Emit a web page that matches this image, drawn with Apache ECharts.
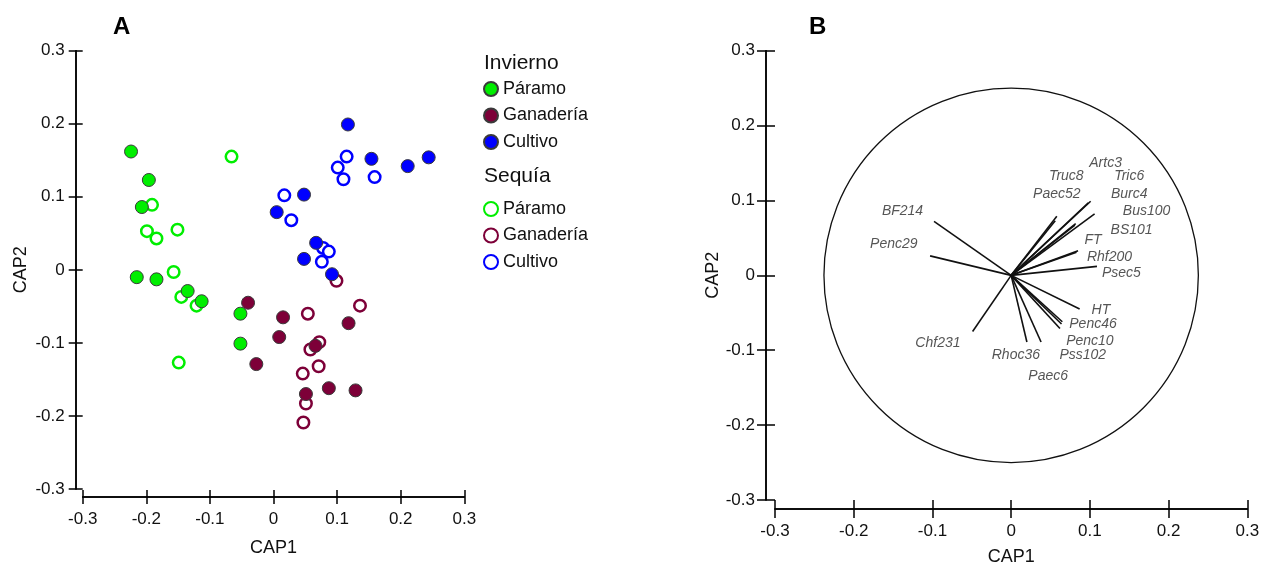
<!DOCTYPE html>
<html>
<head>
<meta charset="utf-8">
<script src="https://cdn.jsdelivr.net/npm/echarts@6/dist/echarts.min.js"></script>
<style>
html,body{margin:0;padding:0;background:#fff;}
#chart{width:1268px;height:566px;}
</style>
</head>
<body>
<div id="chart"></div>
<script>
// ---------- Data ----------
const axisTicks = [-0.3, -0.2, -0.1, 0, 0.1, 0.2, 0.3];
const groupNames = ['Páramo', 'Ganadería', 'Cultivo'];
const seasonNames = ['Invierno', 'Sequía'];

// Panel A: CAP scores
const invParamoX = [-0.224, -0.196, -0.207, -0.215, -0.184, -0.135, -0.113, -0.052, -0.052];
const invParamoY = [0.162, 0.123, 0.086, -0.010, -0.013, -0.029, -0.043, -0.060, -0.101];
const seqParamoX = [-0.066, -0.191, -0.199, -0.151, -0.184, -0.157, -0.145, -0.121, -0.149];
const seqParamoY = [0.155, 0.089, 0.053, 0.055, 0.043, -0.003, -0.037, -0.049, -0.127];
const invGanX = [-0.040, 0.015, 0.009, -0.027, 0.066, 0.118, 0.087, 0.129, 0.051];
const invGanY = [-0.045, -0.065, -0.092, -0.129, -0.104, -0.073, -0.162, -0.165, -0.170];
const seqGanX = [0.099, 0.136, 0.054, 0.072, 0.058, 0.071, 0.046, 0.051, 0.047];
const seqGanY = [-0.015, -0.049, -0.060, -0.099, -0.109, -0.132, -0.142, -0.183, -0.209];
const invCultX = [0.117, 0.154, 0.211, 0.244, 0.048, 0.005, 0.067, 0.048, 0.092];
const invCultY = [0.199, 0.152, 0.142, 0.154, 0.103, 0.079, 0.037, 0.015, -0.006];
const seqCultX = [0.115, 0.101, 0.110, 0.159, 0.017, 0.028, 0.078, 0.087, 0.076];
const seqCultY = [0.155, 0.140, 0.124, 0.127, 0.102, 0.068, 0.030, 0.025, 0.011];

// Panel B: vectors
const vectorNames = ['BF214','Penc29','Chf231','Rhoc36','Paec6','Pss102','Penc10','Penc46','HT','Psec5','Rhf200','FT','BS101','Burc4','Bus100','Tric6','Artc3','Truc8','Paec52'];
const vectorX = [-0.098,-0.103,-0.049,0.020,0.038,0.062,0.064,0.065,0.087,0.109,0.085,0.083,0.081,0.082,0.106,0.098,0.101,0.058,0.056];
const vectorY = [0.072,0.026,-0.075,-0.089,-0.089,-0.071,-0.065,-0.062,-0.045,0.012,0.033,0.031,0.067,0.069,0.082,0.097,0.099,0.079,0.073];
const labelX = [-0.138,-0.149,-0.093,0.006,0.047,0.091,0.100,0.104,0.114,0.140,0.125,0.104,0.153,0.150,0.172,0.150,0.120,0.070,0.058];
const labelY = [0.086,0.042,-0.091,-0.106,-0.134,-0.106,-0.088,-0.065,-0.046,0.003,0.024,0.047,0.060,0.108,0.086,0.132,0.150,0.132,0.108];
const circleRadius = 0.25;

// ---------- Style ----------
const FONT = '"Liberation Sans", Arial, sans-serif';
const colGreen = '#00ee00', colMaroon = '#7d0038', colBlue = '#0000ff';
const pairs = (xs, ys) => xs.map((x, i) => [x, ys[i]]);
const fmt = v => { const r = Math.round(v * 10) / 10; return r === 0 ? '0' : String(r); };

function axisPair(kind, grid, offset, tickLen, nameTxt, nameGap) {
  const common = {
    gridIndex: grid, type: 'value', min: axisTicks[0], max: axisTicks[axisTicks.length - 1], interval: 0.1, offset: offset,
    position: kind === 'x' ? 'bottom' : 'left',
    splitLine: { show: false },
    axisLine: { show: true, onZero: false, lineStyle: { color: '#000', width: 1.5 } }
  };
  const main = Object.assign({}, common, {
    name: nameTxt, nameLocation: 'middle', nameGap: nameGap,
    nameTextStyle: { fontFamily: FONT, fontSize: 18, color: '#111' },
    axisTick: { show: true, inside: false, length: tickLen, lineStyle: { color: '#000', width: 1.5 } },
    axisLabel: { show: true, margin: kind === 'x' ? 14 : 11, fontFamily: FONT, fontSize: 17, color: '#111', formatter: fmt }
  });
  const twin = Object.assign({}, common, {
    axisTick: { show: true, inside: true, length: tickLen, lineStyle: { color: '#000', width: 1.5 } },
    axisLabel: { show: false }
  });
  return [main, twin];
}

const xA = axisPair('x', 0, 8, 7, 'CAP1', 42);
const yA = axisPair('y', 0, 7, 7, 'CAP2', 46);
const xB = axisPair('x', 1, 9, 9, 'CAP1', 39);
const yB = axisPair('y', 1, 9, 9, 'CAP2', 38);

function filled(name, xs, ys, color) {
  return {
    type: 'scatter', name: 'inv|' + name, xAxisIndex: 0, yAxisIndex: 0,
    symbol: 'circle', symbolSize: 13, data: pairs(xs, ys), z: 3,
    itemStyle: { color: color, borderColor: '#3a3a3a', borderWidth: 1, opacity: 1 }
  };
}
function open(name, xs, ys, color) {
  return {
    type: 'scatter', name: 'seq|' + name, xAxisIndex: 0, yAxisIndex: 0,
    symbol: 'circle', symbolSize: 11.5, data: pairs(xs, ys), z: 2,
    itemStyle: { color: '#fff', borderColor: color, borderWidth: 2.5, opacity: 1 }
  };
}

const chart = echarts.init(document.getElementById('chart'), null, { renderer: 'canvas' });
const option = {
  animation: false,
  backgroundColor: '#fff',
  grid: [
    { left: 82.7, top: 50.7, width: 381.6, height: 438.3, containLabel: false, outerBoundsMode: 'none' },
    { left: 775, top: 50.7, width: 472.3, height: 449.3, containLabel: false, outerBoundsMode: 'none' }
  ],
  xAxis: [xA[0], xA[1], xB[0], xB[1]],
  yAxis: [yA[0], yA[1], yB[0], yB[1]],
  legend: [
    {
      orient: 'vertical', left: 483, top: 80, padding: 0, itemWidth: 14, itemHeight: 14, itemGap: 8.5,
      data: groupNames.map(n => 'inv|' + n), formatter: n => n.split('|')[1],
      textStyle: { fontFamily: FONT, fontSize: 18, color: '#111', lineHeight: 18 }, selectedMode: false
    },
    {
      orient: 'vertical', left: 483, top: 200, padding: 0, itemWidth: 14, itemHeight: 14, itemGap: 8.5,
      data: groupNames.map(n => 'seq|' + n), formatter: n => n.split('|')[1],
      textStyle: { fontFamily: FONT, fontSize: 18, color: '#111', lineHeight: 18 }, selectedMode: false
    }
  ],
  graphic: [
    { type: 'text', left: 484, top: 53, style: { text: seasonNames[0], font: '21px ' + FONT, fill: '#111' } },
    { type: 'text', left: 484, top: 166, style: { text: seasonNames[1], font: '21px ' + FONT, fill: '#111' } },
    { type: 'text', left: 113, top: 15, style: { text: 'A', font: 'bold 24px ' + FONT, fill: '#000' } },
    { type: 'text', left: 809, top: 15, style: { text: 'B', font: 'bold 24px ' + FONT, fill: '#000' } }
  ],
  series: [
    open(groupNames[0], seqParamoX, seqParamoY, colGreen),
    open(groupNames[1], seqGanX, seqGanY, colMaroon),
    open(groupNames[2], seqCultX, seqCultY, colBlue),
    filled(groupNames[0], invParamoX, invParamoY, colGreen),
    filled(groupNames[1], invGanX, invGanY, colMaroon),
    filled(groupNames[2], invCultX, invCultY, colBlue),
    {
      type: 'custom', xAxisIndex: 2, yAxisIndex: 2, silent: true,
      data: [[0, 0, circleRadius]],
      renderItem: (params, api) => {
        const c = api.coord([api.value(0), api.value(1)]);
        const r = api.size([0, api.value(2)])[1];
        return { type: 'circle', shape: { cx: c[0], cy: c[1], r: r }, style: { fill: 'none', stroke: '#111', lineWidth: 1.3 } };
      }
    },
    {
      type: 'lines', coordinateSystem: 'cartesian2d', xAxisIndex: 2, yAxisIndex: 2, silent: true,
      lineStyle: { color: '#111', width: 1.6, opacity: 1 },
      data: vectorNames.map((n, i) => ({ coords: [[0, 0], [vectorX[i], vectorY[i]]] }))
    },
    {
      type: 'scatter', xAxisIndex: 2, yAxisIndex: 2, silent: true, symbolSize: 1,
      itemStyle: { color: 'transparent' },
      data: vectorNames.map((n, i) => ({ name: n, value: [labelX[i], labelY[i]] })),
      label: {
        show: true, position: 'inside', formatter: p => p.name,
        fontFamily: FONT, fontStyle: 'italic', fontSize: 14, color: '#2a2a2a'
      }
    }
  ]
};
chart.setOption(option);
</script>
</body>
</html>
